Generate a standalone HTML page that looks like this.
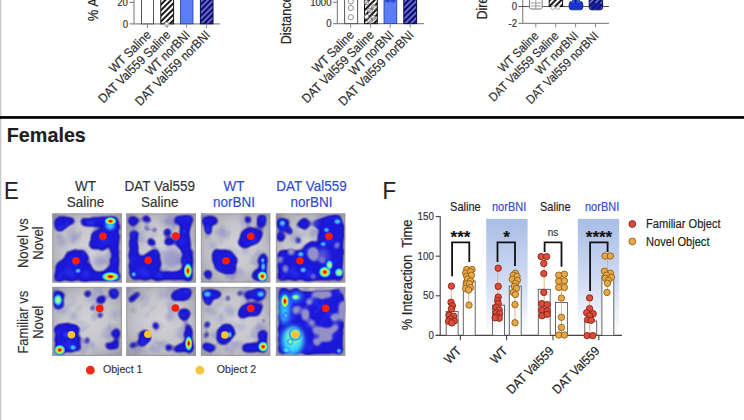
<!DOCTYPE html><html><head><meta charset="utf-8"><style>
html,body{margin:0;padding:0;background:#fff;width:744px;height:420px;overflow:hidden}
svg{display:block}
text{font-family:"Liberation Sans", sans-serif}
</style></head><body>
<svg width="744" height="420" viewBox="0 0 744 420">
<defs>
<pattern id="hatchK" patternUnits="userSpaceOnUse" width="4" height="4" patternTransform="rotate(45)">
<rect width="4" height="4" fill="#fff"/><rect width="2" height="4" fill="#1a1a1a"/></pattern>
<pattern id="hatchN" patternUnits="userSpaceOnUse" width="4" height="4" patternTransform="rotate(45)">
<rect width="4" height="4" fill="#0c0c66"/><rect x="2.3" width="1.7" height="4" fill="#7078e0"/></pattern>
<linearGradient id="bluebg" x1="0" y1="0" x2="0" y2="1">
<stop offset="0" stop-color="#a9bde6"/><stop offset="0.55" stop-color="#d2ddf3"/><stop offset="1" stop-color="#ffffff"/></linearGradient>
<radialGradient id="hmbg" cx="0.5" cy="0.5" r="0.72">
<stop offset="0" stop-color="#d2d2d6"/><stop offset="0.5" stop-color="#c4c4ca"/><stop offset="0.85" stop-color="#a6a6ae"/><stop offset="1" stop-color="#8a8a94"/></radialGradient>
<radialGradient id="hot" cx="0.5" cy="0.5" r="0.5">
<stop offset="0" stop-color="#c80000"/><stop offset="0.22" stop-color="#ff3000"/><stop offset="0.42" stop-color="#ffe000"/>
<stop offset="0.62" stop-color="#60ffa0"/><stop offset="0.8" stop-color="#20b0ff"/><stop offset="1" stop-color="#2040ff" stop-opacity="0"/></radialGradient>
<radialGradient id="warm" cx="0.5" cy="0.5" r="0.5">
<stop offset="0" stop-color="#f0ff40"/><stop offset="0.35" stop-color="#80ffa0"/>
<stop offset="0.65" stop-color="#30c0ff"/><stop offset="1" stop-color="#2040ff" stop-opacity="0"/></radialGradient>
<radialGradient id="orange" cx="0.5" cy="0.5" r="0.5">
<stop offset="0" stop-color="#f8a020"/><stop offset="0.3" stop-color="#f0d040"/><stop offset="0.55" stop-color="#70f0c0"/>
<stop offset="0.8" stop-color="#30a0ff"/><stop offset="1" stop-color="#2040ff" stop-opacity="0"/></radialGradient>
<radialGradient id="cyan2" cx="0.5" cy="0.5" r="0.5">
<stop offset="0" stop-color="#50f0ff"/><stop offset="0.55" stop-color="#30c8ff"/><stop offset="1" stop-color="#2050ff" stop-opacity="0"/></radialGradient>
<radialGradient id="cyan" cx="0.5" cy="0.5" r="0.5">
<stop offset="0" stop-color="#50e0ff"/><stop offset="0.5" stop-color="#3090ff"/><stop offset="1" stop-color="#2040ff" stop-opacity="0"/></radialGradient>
<filter id="blob" x="-20%" y="-20%" width="140%" height="140%">
<feTurbulence type="fractalNoise" baseFrequency="0.18" numOctaves="2" seed="5" result="n"/>
<feDisplacementMap in="SourceGraphic" in2="n" scale="6" xChannelSelector="R" yChannelSelector="G" result="d"/>
<feGaussianBlur in="d" stdDeviation="1.9"/>
<feComponentTransfer><feFuncA type="linear" slope="2.0" intercept="-0.4"/></feComponentTransfer>
</filter>
<filter id="blobin" x="-20%" y="-20%" width="140%" height="140%" color-interpolation-filters="sRGB">
<feTurbulence type="fractalNoise" baseFrequency="0.18" numOctaves="2" seed="5" result="n"/>
<feDisplacementMap in="SourceGraphic" in2="n" scale="6" xChannelSelector="R" yChannelSelector="G" result="d"/>
<feGaussianBlur in="d" stdDeviation="1.9"/>
<feComponentTransfer result="m"><feFuncA type="linear" slope="2.2" intercept="-0.95"/></feComponentTransfer>
<feTurbulence type="fractalNoise" baseFrequency="0.09" numOctaves="1" seed="11" result="n2"/>
<feColorMatrix in="n2" type="matrix" values="0 0 0 0 0.18  0 0 0 0 0.28  0 0 0 0 1  2.0 0 0 0 -1.05" result="c"/>
<feComposite in="c" in2="m" operator="in" result="ci"/>
<feMerge><feMergeNode in="m"/><feMergeNode in="ci"/></feMerge>
</filter>
<filter id="mottle" x="0" y="0" width="100%" height="100%" color-interpolation-filters="sRGB">
<feTurbulence type="fractalNoise" baseFrequency="0.075" numOctaves="2" seed="4"/>
<feColorMatrix type="matrix" values="0 0 0 0 0.4  0 0 0 0 0.4  0 0 0 0 0.78  2.4 0 0 0 -1.2"/>
</filter>
<filter id="core" x="-20%" y="-20%" width="140%" height="140%">
<feGaussianBlur stdDeviation="2.4"/>
<feComponentTransfer><feFuncA type="linear" slope="2.2" intercept="-1.2"/></feComponentTransfer>
</filter>
<filter id="faint" x="-30%" y="-30%" width="160%" height="160%"><feGaussianBlur stdDeviation="2.5"/></filter>
<filter id="edge" x="-10%" y="-10%" width="120%" height="120%"><feGaussianBlur stdDeviation="1.2"/></filter>
<filter id="soft"><feGaussianBlur stdDeviation="0.6"/></filter>
</defs>
<rect width="744" height="420" fill="#fff"/>

<rect x="0" y="0" width="1.3" height="420" fill="#c8c8c8"/>
<text transform="translate(97.50,21.30) rotate(-90) scale(1.0,1.12)" font-size="13" fill="#222" stroke="#222" stroke-width="0.15" text-anchor="start" >% Alternation</text>
<line x1="134" y1="-2" x2="134" y2="24" stroke="#8a8a8a" stroke-width="1.2"/>
<line x1="129.5" y1="2.4" x2="134" y2="2.4" stroke="#8a8a8a" stroke-width="1.2"/>
<line x1="129.5" y1="23.8" x2="220" y2="23.8" stroke="#8a8a8a" stroke-width="1.3"/>
<text transform="translate(127.80,6.00) scale(1.0,1.1)" font-size="9.6" fill="#333" stroke="#333" stroke-width="0.15" text-anchor="end" >20</text>
<text transform="translate(128.00,27.50) scale(1.0,1.1)" font-size="9.6" fill="#333" stroke="#333" stroke-width="0.15" text-anchor="end" >0</text>
<rect x="141.5" y="-5" width="12" height="28.8" fill="#fff" stroke="#555" stroke-width="1"/>
<rect x="160.8" y="-5" width="12.8" height="28.8" fill="url(#hatchK)" stroke="#111" stroke-width="1"/>
<rect x="180.4" y="-5" width="12.6" height="28.8" fill="#5b7ef5" stroke="#2a3a9a" stroke-width="0.8"/>
<rect x="200.4" y="-5" width="12.6" height="28.8" fill="url(#hatchN)" stroke="#080850" stroke-width="1"/>
<circle cx="166.8" cy="24.2" r="2.2" fill="#fff" stroke="#888" stroke-width="0.8"/>
<line x1="147.5" y1="23.8" x2="147.5" y2="28" stroke="#8a8a8a" stroke-width="1"/>
<line x1="167" y1="23.8" x2="167" y2="28" stroke="#8a8a8a" stroke-width="1"/>
<line x1="186.6" y1="23.8" x2="186.6" y2="28" stroke="#8a8a8a" stroke-width="1"/>
<line x1="206.6" y1="23.8" x2="206.6" y2="28" stroke="#8a8a8a" stroke-width="1"/>
<text transform="translate(151.80,35.80) rotate(-45) scale(1.0,1.1)" font-size="11.6" fill="#2e2e2e" stroke="#2e2e2e" stroke-width="0.15" text-anchor="end" >WT Saline</text>
<text transform="translate(171.30,35.80) rotate(-45) scale(1.0,1.1)" font-size="11.6" fill="#2e2e2e" stroke="#2e2e2e" stroke-width="0.15" text-anchor="end" >DAT Val559 Saline</text>
<text transform="translate(190.90,35.80) rotate(-45) scale(1.0,1.1)" font-size="11.6" fill="#2e2e2e" stroke="#2e2e2e" stroke-width="0.15" text-anchor="end" >WT norBNI</text>
<text transform="translate(210.90,35.80) rotate(-45) scale(1.0,1.1)" font-size="11.6" fill="#2e2e2e" stroke="#2e2e2e" stroke-width="0.15" text-anchor="end" >DAT Val559 norBNI</text>
<text transform="translate(291.20,44.30) rotate(-90) scale(1.0,1.15)" font-size="12.5" fill="#222" stroke="#222" stroke-width="0.15" text-anchor="start" >Distance Traveled</text>
<line x1="337.4" y1="-2" x2="337.4" y2="24" stroke="#8a8a8a" stroke-width="1.2"/>
<line x1="333" y1="2.3" x2="337.4" y2="2.3" stroke="#8a8a8a" stroke-width="1.2"/>
<line x1="333" y1="23.6" x2="424" y2="23.6" stroke="#8a8a8a" stroke-width="1.3"/>
<text transform="translate(331.50,6.00) scale(1.0,1.1)" font-size="9.6" fill="#333" stroke="#333" stroke-width="0.15" text-anchor="end" >1000</text>
<text transform="translate(331.50,27.30) scale(1.0,1.1)" font-size="9.6" fill="#333" stroke="#333" stroke-width="0.15" text-anchor="end" >0</text>
<rect x="344.6" y="-5" width="13" height="28.6" fill="#fff" stroke="#555" stroke-width="1"/>
<line x1="350.6" y1="-2" x2="350.6" y2="4" stroke="#666" stroke-width="0.8"/>
<circle cx="350.8" cy="1.5" r="2.6" fill="#fff" stroke="#777" stroke-width="0.8"/>
<circle cx="350.8" cy="8" r="2.6" fill="#fff" stroke="#777" stroke-width="0.8"/>
<circle cx="350.8" cy="17.3" r="2.6" fill="#fff" stroke="#777" stroke-width="0.8"/>
<rect x="364.5" y="-5" width="12.8" height="28.6" fill="url(#hatchK)" stroke="#111" stroke-width="1"/>
<circle cx="366.5" cy="2.5" r="2.4" fill="#fff" fill-opacity="0.6" stroke="#666" stroke-width="0.7"/>
<circle cx="374" cy="7" r="2.4" fill="#fff" fill-opacity="0.6" stroke="#666" stroke-width="0.7"/>
<circle cx="370" cy="10.5" r="2.4" fill="#fff" fill-opacity="0.6" stroke="#666" stroke-width="0.7"/>
<circle cx="366.5" cy="16.5" r="2.4" fill="#fff" fill-opacity="0.6" stroke="#666" stroke-width="0.7"/>
<circle cx="373.5" cy="17.5" r="2.4" fill="#fff" fill-opacity="0.6" stroke="#666" stroke-width="0.7"/>
<circle cx="370" cy="21" r="2.4" fill="#fff" fill-opacity="0.6" stroke="#666" stroke-width="0.7"/>
<rect x="384" y="-5" width="12.8" height="28.6" fill="#5b7ef5" stroke="#2a3a9a" stroke-width="0.8"/>
<circle cx="387.5" cy="0" r="2.6" fill="#2a48d0"/><circle cx="393" cy="0" r="2.6" fill="#2a48d0"/>
<rect x="403.8" y="-5" width="12.8" height="28.6" fill="url(#hatchN)" stroke="#080850" stroke-width="1"/>
<line x1="350.6" y1="23.6" x2="350.6" y2="27.6" stroke="#8a8a8a" stroke-width="1"/>
<line x1="370.6" y1="23.6" x2="370.6" y2="27.6" stroke="#8a8a8a" stroke-width="1"/>
<line x1="390.2" y1="23.6" x2="390.2" y2="27.6" stroke="#8a8a8a" stroke-width="1"/>
<line x1="410.2" y1="23.6" x2="410.2" y2="27.6" stroke="#8a8a8a" stroke-width="1"/>
<text transform="translate(354.90,35.80) rotate(-45) scale(1.0,1.1)" font-size="11.6" fill="#2e2e2e" stroke="#2e2e2e" stroke-width="0.15" text-anchor="end" >WT Saline</text>
<text transform="translate(374.90,35.80) rotate(-45) scale(1.0,1.1)" font-size="11.6" fill="#2e2e2e" stroke="#2e2e2e" stroke-width="0.15" text-anchor="end" >DAT Val559 Saline</text>
<text transform="translate(394.50,35.80) rotate(-45) scale(1.0,1.1)" font-size="11.6" fill="#2e2e2e" stroke="#2e2e2e" stroke-width="0.15" text-anchor="end" >WT norBNI</text>
<text transform="translate(414.50,35.80) rotate(-45) scale(1.0,1.1)" font-size="11.6" fill="#2e2e2e" stroke="#2e2e2e" stroke-width="0.15" text-anchor="end" >DAT Val559 norBNI</text>
<text transform="translate(487.40,19.60) rotate(-90) scale(1.0,1.15)" font-size="12.5" fill="#222" stroke="#222" stroke-width="0.15" text-anchor="start" >Direction Index</text>
<line x1="522.7" y1="-2" x2="522.7" y2="23.6" stroke="#8a8a8a" stroke-width="1.2"/>
<line x1="518.5" y1="6.5" x2="609" y2="6.5" stroke="#555" stroke-width="1.1"/>
<line x1="518.5" y1="23.4" x2="609" y2="23.4" stroke="#8a8a8a" stroke-width="1.3"/>
<text transform="translate(517.00,10.00) scale(1.0,1.1)" font-size="9.6" fill="#333" stroke="#333" stroke-width="0.15" text-anchor="end" >0</text>
<text transform="translate(517.00,27.00) scale(1.0,1.1)" font-size="9.6" fill="#333" stroke="#333" stroke-width="0.15" text-anchor="end" >-2</text>
<rect x="529.6" y="-3" width="12.6" height="12" rx="2" fill="#fff" stroke="#777" stroke-width="1"/>
<line x1="531" y1="3" x2="541" y2="3" stroke="#888" stroke-width="0.8"/><line x1="531" y1="6" x2="541" y2="6" stroke="#888" stroke-width="0.8"/><line x1="535.8" y1="-2" x2="535.8" y2="9" stroke="#888" stroke-width="0.8"/>
<rect x="549.2" y="-3" width="13.4" height="9.5" fill="url(#hatchK)" stroke="#111" stroke-width="1"/>
<circle cx="553" cy="7.5" r="2" fill="#fff" stroke="#888" stroke-width="0.7"/><circle cx="558" cy="7.5" r="2" fill="#fff" stroke="#888" stroke-width="0.7"/>
<rect x="569.2" y="1.5" width="13.6" height="8.3" rx="2.5" fill="#1a36c8" stroke="#0a1a90" stroke-width="0.8"/>
<rect x="572" y="-2" width="8" height="5" fill="#3050d8"/><line x1="575.6" y1="-2" x2="575.6" y2="3" stroke="#101870" stroke-width="1.5"/>
<rect x="589.2" y="-2" width="13.4" height="11.8" rx="2.5" fill="url(#hatchN)" stroke="#0a0a60" stroke-width="1"/>
<rect x="590.5" y="3" width="11" height="6" rx="2" fill="#0c1690" fill-opacity="0.8"/>
<line x1="535.8" y1="23.4" x2="535.8" y2="27.4" stroke="#8a8a8a" stroke-width="1"/>
<line x1="555.7" y1="23.4" x2="555.7" y2="27.4" stroke="#8a8a8a" stroke-width="1"/>
<line x1="575.6" y1="23.4" x2="575.6" y2="27.4" stroke="#8a8a8a" stroke-width="1"/>
<line x1="595.5" y1="23.4" x2="595.5" y2="27.4" stroke="#8a8a8a" stroke-width="1"/>
<text transform="translate(539.40,36.60) rotate(-45) scale(1.0,1.1)" font-size="11.2" fill="#2e2e2e" stroke="#2e2e2e" stroke-width="0.15" text-anchor="end" >WT Saline</text>
<text transform="translate(559.30,36.60) rotate(-45) scale(1.0,1.1)" font-size="11.2" fill="#2e2e2e" stroke="#2e2e2e" stroke-width="0.15" text-anchor="end" >DAT Val559 Saline</text>
<text transform="translate(579.20,36.60) rotate(-45) scale(1.0,1.1)" font-size="11.2" fill="#2e2e2e" stroke="#2e2e2e" stroke-width="0.15" text-anchor="end" >WT norBNI</text>
<text transform="translate(599.10,36.60) rotate(-45) scale(1.0,1.1)" font-size="11.2" fill="#2e2e2e" stroke="#2e2e2e" stroke-width="0.15" text-anchor="end" >DAT Val559 norBNI</text>
<rect x="0" y="116.1" width="744" height="2.7" fill="#000"/>
<text transform="translate(6.80,141.50) scale(1.04,1.1)" font-size="19" fill="#1e1e1e" stroke="#1e1e1e" stroke-width="0.15" text-anchor="start" font-weight="bold" >Females</text>
<text transform="translate(4.00,199.20) scale(1.0,1.1)" font-size="22" fill="#222" stroke="#222" stroke-width="0.15" text-anchor="start" >E</text>
<text transform="translate(85.60,190.50) scale(1.0,1.1)" font-size="13.5" fill="#333" stroke="#333" stroke-width="0.15" text-anchor="middle" >WT</text>
<text transform="translate(85.60,206.60) scale(1.0,1.1)" font-size="13.5" fill="#333" stroke="#333" stroke-width="0.15" text-anchor="middle" >Saline</text>
<text transform="translate(159.80,190.50) scale(1.0,1.1)" font-size="13.5" fill="#333" stroke="#333" stroke-width="0.15" text-anchor="middle" >DAT Val559</text>
<text transform="translate(159.80,206.60) scale(1.0,1.1)" font-size="13.5" fill="#333" stroke="#333" stroke-width="0.15" text-anchor="middle" >Saline</text>
<text transform="translate(233.90,190.50) scale(1.0,1.1)" font-size="13.5" fill="#3049d0" stroke="#3049d0" stroke-width="0.15" text-anchor="middle" >WT</text>
<text transform="translate(233.90,206.60) scale(1.0,1.1)" font-size="13.5" fill="#3049d0" stroke="#3049d0" stroke-width="0.15" text-anchor="middle" >norBNI</text>
<text transform="translate(311.60,190.50) scale(1.0,1.1)" font-size="13.5" fill="#3049d0" stroke="#3049d0" stroke-width="0.15" text-anchor="middle" >DAT Val559</text>
<text transform="translate(311.60,206.60) scale(1.0,1.1)" font-size="13.5" fill="#3049d0" stroke="#3049d0" stroke-width="0.15" text-anchor="middle" >norBNI</text>
<text transform="translate(27.80,243.10) rotate(-90) scale(1.0,1.15)" font-size="13" fill="#333" stroke="#333" stroke-width="0.15" text-anchor="middle" >Novel vs</text>
<text transform="translate(42.80,243.10) rotate(-90) scale(1.0,1.15)" font-size="13" fill="#333" stroke="#333" stroke-width="0.15" text-anchor="middle" >Novel</text>
<text transform="translate(27.80,322.20) rotate(-90) scale(1.0,1.15)" font-size="13" fill="#333" stroke="#333" stroke-width="0.15" text-anchor="middle" >Familiar vs</text>
<text transform="translate(42.80,322.20) rotate(-90) scale(1.0,1.15)" font-size="13" fill="#333" stroke="#333" stroke-width="0.15" text-anchor="middle" >Novel</text>
<clipPath id="clip00"><rect x="0" y="0" width="69.8" height="69.4"/></clipPath>
<g transform="translate(52.2,213.3)" clip-path="url(#clip00)">
<rect x="0" y="0" width="69.8" height="69.4" fill="url(#hmbg)"/>
<rect x="0" y="0" width="69.8" height="69.4" fill="#fff" filter="url(#mottle)" opacity="0.45"/>
<g filter="url(#faint)" opacity="0.35">
<circle cx="10.0" cy="29.0" r="4.0" fill="#5050c0"/>
<circle cx="22.0" cy="24.0" r="5.0" fill="#5050c0"/>
<circle cx="47.0" cy="48.0" r="5.0" fill="#5050c0"/>
</g>
<g filter="url(#blob)">
<ellipse cx="10.0" cy="10.0" rx="8.0" ry="7.0" fill="#1410a6"/>
<circle cx="17.0" cy="8.0" r="4.5" fill="#1410a6"/>
<circle cx="7.0" cy="14.0" r="4.5" fill="#1410a6"/>
<line x1="33.0" y1="9.0" x2="62.0" y2="8.0" stroke="#1410a6" stroke-width="8.5" stroke-linecap="round"/>
<circle cx="47.0" cy="25.0" r="8.5" fill="#1410a6"/>
<circle cx="53.0" cy="21.0" r="7.0" fill="#1410a6"/>
<circle cx="56.0" cy="28.0" r="5.0" fill="#1410a6"/>
<circle cx="58.0" cy="15.0" r="5.0" fill="#1410a6"/>
<circle cx="41.0" cy="33.0" r="4.2" fill="#1410a6"/>
<circle cx="51.0" cy="34.0" r="3.8" fill="#1410a6"/>
<line x1="62.5" y1="10.0" x2="62.5" y2="62.0" stroke="#1410a6" stroke-width="8" stroke-linecap="round"/>
<circle cx="22.0" cy="46.0" r="10.0" fill="#1410a6"/>
<circle cx="30.0" cy="43.0" r="6.0" fill="#1410a6"/>
<ellipse cx="12.0" cy="56.0" rx="9.0" ry="9.0" fill="#1410a6"/>
<line x1="8.0" y1="58.0" x2="8.0" y2="64.0" stroke="#1410a6" stroke-width="9" stroke-linecap="round"/>
<line x1="8.0" y1="62.0" x2="38.0" y2="62.0" stroke="#1410a6" stroke-width="11" stroke-linecap="round"/>
<circle cx="30.0" cy="56.0" r="6.0" fill="#1410a6"/>
<circle cx="36.0" cy="54.0" r="4.0" fill="#1410a6"/>
<line x1="38.0" y1="63.0" x2="64.0" y2="63.0" stroke="#1410a6" stroke-width="9" stroke-linecap="round"/>
<circle cx="58.0" cy="56.0" r="4.0" fill="#1410a6"/>
</g>
<g filter="url(#blobin)">
<ellipse cx="10.0" cy="10.0" rx="8.0" ry="7.0" fill="#1c18da"/>
<circle cx="17.0" cy="8.0" r="4.5" fill="#1c18da"/>
<circle cx="7.0" cy="14.0" r="4.5" fill="#1c18da"/>
<line x1="33.0" y1="9.0" x2="62.0" y2="8.0" stroke="#1c18da" stroke-width="8.5" stroke-linecap="round"/>
<circle cx="47.0" cy="25.0" r="8.5" fill="#1c18da"/>
<circle cx="53.0" cy="21.0" r="7.0" fill="#1c18da"/>
<circle cx="56.0" cy="28.0" r="5.0" fill="#1c18da"/>
<circle cx="58.0" cy="15.0" r="5.0" fill="#1c18da"/>
<circle cx="41.0" cy="33.0" r="4.2" fill="#1c18da"/>
<circle cx="51.0" cy="34.0" r="3.8" fill="#1c18da"/>
<line x1="62.5" y1="10.0" x2="62.5" y2="62.0" stroke="#1c18da" stroke-width="8" stroke-linecap="round"/>
<circle cx="22.0" cy="46.0" r="10.0" fill="#1c18da"/>
<circle cx="30.0" cy="43.0" r="6.0" fill="#1c18da"/>
<ellipse cx="12.0" cy="56.0" rx="9.0" ry="9.0" fill="#1c18da"/>
<line x1="8.0" y1="58.0" x2="8.0" y2="64.0" stroke="#1c18da" stroke-width="9" stroke-linecap="round"/>
<line x1="8.0" y1="62.0" x2="38.0" y2="62.0" stroke="#1c18da" stroke-width="11" stroke-linecap="round"/>
<circle cx="30.0" cy="56.0" r="6.0" fill="#1c18da"/>
<circle cx="36.0" cy="54.0" r="4.0" fill="#1c18da"/>
<line x1="38.0" y1="63.0" x2="64.0" y2="63.0" stroke="#1c18da" stroke-width="9" stroke-linecap="round"/>
<circle cx="58.0" cy="56.0" r="4.0" fill="#1c18da"/>
</g>
<g filter="url(#core)" opacity="0.8">
<circle cx="23.0" cy="50.0" r="5.0" fill="#3050ff"/>
<circle cx="50.0" cy="25.0" r="5.0" fill="#3050ff"/>
<line x1="62.0" y1="14.0" x2="62.0" y2="50.0" stroke="#3050ff" stroke-width="4" stroke-linecap="round"/>
</g>
<ellipse cx="58" cy="12" rx="7" ry="7" fill="url(#cyan)"/>
<ellipse cx="58.3" cy="63.3" rx="9.5" ry="5" fill="url(#hot)"/>
<ellipse cx="58.3" cy="7.9" rx="6.5" ry="4.5" fill="url(#hot)"/>
<ellipse cx="25.8" cy="57.5" rx="3.5" ry="3" fill="url(#cyan)"/>
<circle cx="50.8" cy="23" r="3.8" fill="#ff1a00" filter="url(#soft)"/>
<circle cx="23.75" cy="47.5" r="3.8" fill="#ff1a00" filter="url(#soft)"/>
<rect x="0.6" y="0.6" width="68.6" height="68.2" fill="none" stroke="#9a9aa2" stroke-width="1.1"/>
</g>
<clipPath id="clip01"><rect x="0" y="0" width="69.8" height="69.4"/></clipPath>
<g transform="translate(126.2,213.3)" clip-path="url(#clip01)">
<rect x="0" y="0" width="69.8" height="69.4" fill="url(#hmbg)"/>
<rect x="0" y="0" width="69.8" height="69.4" fill="#fff" filter="url(#mottle)" opacity="0.45"/>
<g filter="url(#faint)" opacity="0.35">
<line x1="38.0" y1="8.0" x2="52.0" y2="10.0" stroke="#5050c0" stroke-width="6" stroke-linecap="round"/>
<line x1="7.0" y1="12.0" x2="7.0" y2="22.0" stroke="#5050c0" stroke-width="7" stroke-linecap="round"/>
<circle cx="45.0" cy="45.0" r="10.0" fill="#5050c0"/>
<circle cx="14.0" cy="25.0" r="4.0" fill="#5050c0"/>
</g>
<g filter="url(#blob)">
<circle cx="6.7" cy="7.5" r="5.0" fill="#1410a6"/>
<ellipse cx="20.0" cy="5.8" rx="4.5" ry="3.8" fill="#1410a6"/>
<circle cx="20.8" cy="15.0" r="2.4" fill="#1410a6"/>
<circle cx="28.8" cy="16.3" r="2.4" fill="#1410a6"/>
<circle cx="25.0" cy="29.0" r="4.0" fill="#1410a6"/>
<line x1="7.5" y1="22.0" x2="7.5" y2="60.0" stroke="#1410a6" stroke-width="8.5" stroke-linecap="round"/>
<circle cx="10.0" cy="45.0" r="5.5" fill="#1410a6"/>
<circle cx="14.0" cy="58.0" r="6.5" fill="#1410a6"/>
<circle cx="22.0" cy="47.0" r="7.5" fill="#1410a6"/>
<circle cx="28.0" cy="42.0" r="6.0" fill="#1410a6"/>
<circle cx="30.0" cy="52.0" r="5.0" fill="#1410a6"/>
<circle cx="24.0" cy="58.0" r="6.0" fill="#1410a6"/>
<line x1="8.0" y1="62.5" x2="56.0" y2="62.5" stroke="#1410a6" stroke-width="8" stroke-linecap="round"/>
<circle cx="40.4" cy="19.6" r="3.5" fill="#1410a6"/>
<ellipse cx="43.3" cy="28.3" rx="5.0" ry="3.5" fill="#1410a6"/>
<line x1="52.0" y1="7.0" x2="63.0" y2="7.0" stroke="#1410a6" stroke-width="8" stroke-linecap="round"/>
<line x1="59.0" y1="8.0" x2="59.0" y2="34.0" stroke="#1410a6" stroke-width="10" stroke-linecap="round"/>
<circle cx="53.0" cy="30.0" r="4.0" fill="#1410a6"/>
<line x1="61.0" y1="38.0" x2="61.0" y2="63.0" stroke="#1410a6" stroke-width="11" stroke-linecap="round"/>
</g>
<g filter="url(#blobin)">
<circle cx="6.7" cy="7.5" r="5.0" fill="#1c18da"/>
<ellipse cx="20.0" cy="5.8" rx="4.5" ry="3.8" fill="#1c18da"/>
<circle cx="20.8" cy="15.0" r="2.4" fill="#1c18da"/>
<circle cx="28.8" cy="16.3" r="2.4" fill="#1c18da"/>
<circle cx="25.0" cy="29.0" r="4.0" fill="#1c18da"/>
<line x1="7.5" y1="22.0" x2="7.5" y2="60.0" stroke="#1c18da" stroke-width="8.5" stroke-linecap="round"/>
<circle cx="10.0" cy="45.0" r="5.5" fill="#1c18da"/>
<circle cx="14.0" cy="58.0" r="6.5" fill="#1c18da"/>
<circle cx="22.0" cy="47.0" r="7.5" fill="#1c18da"/>
<circle cx="28.0" cy="42.0" r="6.0" fill="#1c18da"/>
<circle cx="30.0" cy="52.0" r="5.0" fill="#1c18da"/>
<circle cx="24.0" cy="58.0" r="6.0" fill="#1c18da"/>
<line x1="8.0" y1="62.5" x2="56.0" y2="62.5" stroke="#1c18da" stroke-width="8" stroke-linecap="round"/>
<circle cx="40.4" cy="19.6" r="3.5" fill="#1c18da"/>
<ellipse cx="43.3" cy="28.3" rx="5.0" ry="3.5" fill="#1c18da"/>
<line x1="52.0" y1="7.0" x2="63.0" y2="7.0" stroke="#1c18da" stroke-width="8" stroke-linecap="round"/>
<line x1="59.0" y1="8.0" x2="59.0" y2="34.0" stroke="#1c18da" stroke-width="10" stroke-linecap="round"/>
<circle cx="53.0" cy="30.0" r="4.0" fill="#1c18da"/>
<line x1="61.0" y1="38.0" x2="61.0" y2="63.0" stroke="#1c18da" stroke-width="11" stroke-linecap="round"/>
</g>
<g filter="url(#core)" opacity="0.8">
<circle cx="22.0" cy="50.0" r="4.0" fill="#3050ff"/>
<circle cx="58.0" cy="18.0" r="4.0" fill="#3050ff"/>
</g>
<ellipse cx="61.7" cy="57.5" rx="4.5" ry="8" fill="url(#hot)"/>
<ellipse cx="7.5" cy="61" rx="3" ry="3" fill="url(#cyan)"/>
<circle cx="49.6" cy="22.8" r="3.8" fill="#ff1a00" filter="url(#soft)"/>
<circle cx="22" cy="47" r="3.8" fill="#ff1a00" filter="url(#soft)"/>
<rect x="0.6" y="0.6" width="68.6" height="68.2" fill="none" stroke="#9a9aa2" stroke-width="1.1"/>
</g>
<clipPath id="clip02"><rect x="0" y="0" width="69.8" height="69.4"/></clipPath>
<g transform="translate(200.7,213.3)" clip-path="url(#clip02)">
<rect x="0" y="0" width="69.8" height="69.4" fill="url(#hmbg)"/>
<rect x="0" y="0" width="69.8" height="69.4" fill="#fff" filter="url(#mottle)" opacity="0.45"/>
<g filter="url(#faint)" opacity="0.35">
<circle cx="22.0" cy="20.0" r="5.0" fill="#5050c0"/>
<circle cx="44.0" cy="37.5" r="3.0" fill="#5050c0"/>
<circle cx="32.0" cy="62.0" r="4.0" fill="#5050c0"/>
<circle cx="12.0" cy="32.0" r="3.0" fill="#5050c0"/>
</g>
<g filter="url(#blob)">
<line x1="6.0" y1="8.0" x2="12.0" y2="8.0" stroke="#1410a6" stroke-width="10" stroke-linecap="round"/>
<line x1="8.0" y1="10.0" x2="7.0" y2="18.0" stroke="#1410a6" stroke-width="7" stroke-linecap="round"/>
<circle cx="47.0" cy="6.0" r="3.4" fill="#1410a6"/>
<line x1="61.0" y1="6.0" x2="61.0" y2="11.0" stroke="#1410a6" stroke-width="8" stroke-linecap="round"/>
<circle cx="50.0" cy="23.0" r="9.5" fill="#1410a6"/>
<circle cx="44.0" cy="29.0" r="6.0" fill="#1410a6"/>
<circle cx="57.0" cy="21.0" r="5.0" fill="#1410a6"/>
<circle cx="24.0" cy="48.0" r="11.5" fill="#1410a6"/>
<circle cx="17.0" cy="42.0" r="6.0" fill="#1410a6"/>
<circle cx="30.0" cy="56.0" r="5.0" fill="#1410a6"/>
<circle cx="7.5" cy="61.0" r="4.5" fill="#1410a6"/>
<line x1="62.0" y1="44.0" x2="62.0" y2="62.0" stroke="#1410a6" stroke-width="8" stroke-linecap="round"/>
<circle cx="59.0" cy="62.0" r="7.0" fill="#1410a6"/>
</g>
<g filter="url(#blobin)">
<line x1="6.0" y1="8.0" x2="12.0" y2="8.0" stroke="#1c18da" stroke-width="10" stroke-linecap="round"/>
<line x1="8.0" y1="10.0" x2="7.0" y2="18.0" stroke="#1c18da" stroke-width="7" stroke-linecap="round"/>
<circle cx="47.0" cy="6.0" r="3.4" fill="#1c18da"/>
<line x1="61.0" y1="6.0" x2="61.0" y2="11.0" stroke="#1c18da" stroke-width="8" stroke-linecap="round"/>
<circle cx="50.0" cy="23.0" r="9.5" fill="#1c18da"/>
<circle cx="44.0" cy="29.0" r="6.0" fill="#1c18da"/>
<circle cx="57.0" cy="21.0" r="5.0" fill="#1c18da"/>
<circle cx="24.0" cy="48.0" r="11.5" fill="#1c18da"/>
<circle cx="17.0" cy="42.0" r="6.0" fill="#1c18da"/>
<circle cx="30.0" cy="56.0" r="5.0" fill="#1c18da"/>
<circle cx="7.5" cy="61.0" r="4.5" fill="#1c18da"/>
<line x1="62.0" y1="44.0" x2="62.0" y2="62.0" stroke="#1c18da" stroke-width="8" stroke-linecap="round"/>
<circle cx="59.0" cy="62.0" r="7.0" fill="#1c18da"/>
</g>
<g filter="url(#core)" opacity="0.8">
<circle cx="50.0" cy="22.0" r="5.0" fill="#3050ff"/>
<circle cx="24.0" cy="48.0" r="5.0" fill="#3050ff"/>
</g>
<ellipse cx="61.7" cy="63" rx="5.5" ry="5.5" fill="url(#hot)"/>
<ellipse cx="62.5" cy="53.3" rx="3" ry="5" fill="url(#cyan)"/>
<ellipse cx="62" cy="47" rx="2.5" ry="3" fill="url(#cyan)"/>
<circle cx="50" cy="23" r="3.8" fill="#ff1a00" filter="url(#soft)"/>
<circle cx="25.3" cy="47.5" r="3.8" fill="#ff1a00" filter="url(#soft)"/>
<rect x="0.6" y="0.6" width="68.6" height="68.2" fill="none" stroke="#9a9aa2" stroke-width="1.1"/>
</g>
<clipPath id="clip03"><rect x="0" y="0" width="69.8" height="69.4"/></clipPath>
<g transform="translate(275.7,213.3)" clip-path="url(#clip03)">
<rect x="0" y="0" width="69.8" height="69.4" fill="url(#hmbg)"/>
<rect x="0" y="0" width="69.8" height="69.4" fill="#fff" filter="url(#mottle)" opacity="0.45"/>
<g filter="url(#faint)" opacity="0.35">
<circle cx="20.0" cy="25.0" r="5.0" fill="#5050c0"/>
<circle cx="38.0" cy="20.0" r="5.0" fill="#5050c0"/>
</g>
<g filter="url(#blob)">
<circle cx="7.0" cy="11.0" r="6.5" fill="#1410a6"/>
<circle cx="13.3" cy="18.3" r="3.5" fill="#1410a6"/>
<circle cx="5.0" cy="24.0" r="4.5" fill="#1410a6"/>
<ellipse cx="28.3" cy="10.4" rx="7.0" ry="5.5" fill="#1410a6"/>
<rect x="2.5" y="37.0" width="65.0" height="30.0" rx="4" fill="#1410a6"/>
<rect x="43.0" y="6.0" width="24.5" height="34.0" rx="4" fill="#1410a6"/>
<line x1="42.0" y1="11.0" x2="60.0" y2="6.0" stroke="#1410a6" stroke-width="9" stroke-linecap="round"/>
<circle cx="32.0" cy="35.0" r="5.0" fill="#1410a6"/>
<circle cx="40.0" cy="34.0" r="6.0" fill="#1410a6"/>
<circle cx="22.7" cy="27.0" r="3.0" fill="#1410a6"/>
</g>
<g filter="url(#blobin)">
<circle cx="7.0" cy="11.0" r="6.5" fill="#1c18da"/>
<circle cx="13.3" cy="18.3" r="3.5" fill="#1c18da"/>
<circle cx="5.0" cy="24.0" r="4.5" fill="#1c18da"/>
<ellipse cx="28.3" cy="10.4" rx="7.0" ry="5.5" fill="#1c18da"/>
<rect x="2.5" y="37.0" width="65.0" height="30.0" rx="4" fill="#1c18da"/>
<rect x="43.0" y="6.0" width="24.5" height="34.0" rx="4" fill="#1c18da"/>
<line x1="42.0" y1="11.0" x2="60.0" y2="6.0" stroke="#1c18da" stroke-width="9" stroke-linecap="round"/>
<circle cx="32.0" cy="35.0" r="5.0" fill="#1c18da"/>
<circle cx="40.0" cy="34.0" r="6.0" fill="#1c18da"/>
<circle cx="22.7" cy="27.0" r="3.0" fill="#1c18da"/>
</g>
<g filter="url(#faint)" opacity="0.45">
<circle cx="47.0" cy="42.0" r="6.0" fill="#9a9ad0"/>
<circle cx="38.0" cy="8.0" r="4.0" fill="#9a9ad0"/>
</g>
<g filter="url(#blob)">
<circle cx="4.0" cy="46.0" r="3.0" fill="#9290c6"/>
<ellipse cx="37.0" cy="41.0" rx="5.0" ry="7.0" fill="#9290c6"/>
<circle cx="37.0" cy="63.0" r="2.8" fill="#9290c6"/>
<circle cx="61.0" cy="32.0" r="2.5" fill="#9290c6"/>
<circle cx="10.0" cy="56.0" r="3.0" fill="#9290c6"/>
<circle cx="15.0" cy="38.0" r="3.0" fill="#9290c6"/>
<circle cx="47.0" cy="47.0" r="3.0" fill="#9290c6"/>
</g>
<ellipse cx="6.7" cy="10" rx="4" ry="4" fill="url(#cyan)"/>
<ellipse cx="61.7" cy="8.3" rx="4.5" ry="3.5" fill="url(#cyan)"/>
<ellipse cx="50.8" cy="16.7" rx="3.5" ry="3" fill="url(#cyan)"/>
<ellipse cx="47.5" cy="30.8" rx="3.5" ry="3" fill="url(#cyan)"/>
<ellipse cx="25" cy="41" rx="4" ry="3.5" fill="url(#cyan)"/>
<ellipse cx="27.5" cy="56.7" rx="4" ry="3.5" fill="url(#cyan)"/>
<ellipse cx="49.2" cy="58.75" rx="6.5" ry="6" fill="url(#hot)"/>
<ellipse cx="53.75" cy="51.7" rx="4" ry="5.5" fill="url(#warm)"/>
<ellipse cx="63.3" cy="59.2" rx="5" ry="5" fill="url(#warm)"/>
<circle cx="53.3" cy="23" r="3.8" fill="#ff1a00" filter="url(#soft)"/>
<circle cx="24.2" cy="47.5" r="3.8" fill="#ff1a00" filter="url(#soft)"/>
<rect x="0.6" y="0.6" width="68.6" height="68.2" fill="none" stroke="#9a9aa2" stroke-width="1.1"/>
</g>
<clipPath id="clip10"><rect x="0" y="0" width="69.8" height="69.4"/></clipPath>
<g transform="translate(52.2,286.7)" clip-path="url(#clip10)">
<rect x="0" y="0" width="69.8" height="69.4" fill="url(#hmbg)"/>
<rect x="0" y="0" width="69.8" height="69.4" fill="#fff" filter="url(#mottle)" opacity="0.45"/>
<g filter="url(#faint)" opacity="0.35">
<circle cx="12.0" cy="24.0" r="3.0" fill="#5050c0"/>
<circle cx="38.0" cy="12.0" r="3.0" fill="#5050c0"/>
<circle cx="62.0" cy="28.0" r="3.0" fill="#5050c0"/>
<circle cx="22.0" cy="30.0" r="3.0" fill="#5050c0"/>
</g>
<g filter="url(#blob)">
<line x1="6.0" y1="9.0" x2="6.0" y2="17.0" stroke="#1410a6" stroke-width="11" stroke-linecap="round"/>
<circle cx="35.8" cy="6.7" r="3.7" fill="#1410a6"/>
<circle cx="61.7" cy="7.5" r="5.0" fill="#1410a6"/>
<circle cx="48.3" cy="13.3" r="4.5" fill="#1410a6"/>
<circle cx="40.0" cy="21.7" r="3.2" fill="#1410a6"/>
<circle cx="48.3" cy="28.3" r="3.2" fill="#1410a6"/>
<line x1="9.0" y1="44.0" x2="20.0" y2="44.0" stroke="#1410a6" stroke-width="14" stroke-linecap="round"/>
<line x1="9.0" y1="50.0" x2="9.0" y2="62.0" stroke="#1410a6" stroke-width="12" stroke-linecap="round"/>
<line x1="14.0" y1="60.0" x2="24.0" y2="60.0" stroke="#1410a6" stroke-width="10" stroke-linecap="round"/>
<circle cx="22.0" cy="52.0" r="6.0" fill="#1410a6"/>
<circle cx="64.2" cy="46.7" r="4.6" fill="#1410a6"/>
<line x1="56.0" y1="59.0" x2="64.0" y2="59.0" stroke="#1410a6" stroke-width="7" stroke-linecap="round"/>
<circle cx="64.0" cy="55.0" r="3.0" fill="#1410a6"/>
<circle cx="35.0" cy="54.0" r="2.8" fill="#1410a6"/>
</g>
<g filter="url(#blobin)">
<line x1="6.0" y1="9.0" x2="6.0" y2="17.0" stroke="#1c18da" stroke-width="11" stroke-linecap="round"/>
<circle cx="35.8" cy="6.7" r="3.7" fill="#1c18da"/>
<circle cx="61.7" cy="7.5" r="5.0" fill="#1c18da"/>
<circle cx="48.3" cy="13.3" r="4.5" fill="#1c18da"/>
<circle cx="40.0" cy="21.7" r="3.2" fill="#1c18da"/>
<circle cx="48.3" cy="28.3" r="3.2" fill="#1c18da"/>
<line x1="9.0" y1="44.0" x2="20.0" y2="44.0" stroke="#1c18da" stroke-width="14" stroke-linecap="round"/>
<line x1="9.0" y1="50.0" x2="9.0" y2="62.0" stroke="#1c18da" stroke-width="12" stroke-linecap="round"/>
<line x1="14.0" y1="60.0" x2="24.0" y2="60.0" stroke="#1c18da" stroke-width="10" stroke-linecap="round"/>
<circle cx="22.0" cy="52.0" r="6.0" fill="#1c18da"/>
<circle cx="64.2" cy="46.7" r="4.6" fill="#1c18da"/>
<line x1="56.0" y1="59.0" x2="64.0" y2="59.0" stroke="#1c18da" stroke-width="7" stroke-linecap="round"/>
<circle cx="64.0" cy="55.0" r="3.0" fill="#1c18da"/>
<circle cx="35.0" cy="54.0" r="2.8" fill="#1c18da"/>
</g>
<g filter="url(#core)" opacity="0.8">
<circle cx="14.0" cy="48.0" r="5.0" fill="#3050ff"/>
</g>
<ellipse cx="5.8" cy="13.3" rx="5" ry="6.5" fill="url(#warm)"/>
<ellipse cx="7.5" cy="63.3" rx="6" ry="5.5" fill="url(#hot)"/>
<ellipse cx="20.8" cy="60.8" rx="4" ry="3.5" fill="url(#cyan)"/>
<circle cx="47.5" cy="21.7" r="3.8" fill="#ff1a00" filter="url(#soft)"/>
<circle cx="19.2" cy="48" r="3.8" fill="#ffc42a" filter="url(#soft)"/>
<rect x="0.6" y="0.6" width="68.6" height="68.2" fill="none" stroke="#9a9aa2" stroke-width="1.1"/>
</g>
<clipPath id="clip11"><rect x="0" y="0" width="69.8" height="69.4"/></clipPath>
<g transform="translate(126.2,286.7)" clip-path="url(#clip11)">
<rect x="0" y="0" width="69.8" height="69.4" fill="url(#hmbg)"/>
<rect x="0" y="0" width="69.8" height="69.4" fill="#fff" filter="url(#mottle)" opacity="0.45"/>
<g filter="url(#faint)" opacity="0.35">
<circle cx="16.0" cy="11.0" r="3.0" fill="#5050c0"/>
<circle cx="8.0" cy="60.0" r="4.0" fill="#5050c0"/>
<circle cx="14.0" cy="62.0" r="3.0" fill="#5050c0"/>
<circle cx="46.0" cy="30.0" r="3.0" fill="#5050c0"/>
<circle cx="36.0" cy="8.0" r="3.0" fill="#5050c0"/>
</g>
<g filter="url(#blob)">
<line x1="5.0" y1="13.0" x2="10.0" y2="8.0" stroke="#1410a6" stroke-width="6" stroke-linecap="round"/>
<circle cx="50.0" cy="9.0" r="4.5" fill="#1410a6"/>
<circle cx="58.3" cy="7.5" r="6.5" fill="#1410a6"/>
<circle cx="58.3" cy="27.5" r="6.2" fill="#1410a6"/>
<circle cx="29.2" cy="39.2" r="3.5" fill="#1410a6"/>
<ellipse cx="19.0" cy="50.0" rx="6.5" ry="7.0" fill="#1410a6"/>
<circle cx="16.0" cy="55.0" r="4.5" fill="#1410a6"/>
<circle cx="6.7" cy="58.3" r="3.0" fill="#1410a6"/>
<circle cx="42.5" cy="60.8" r="3.4" fill="#1410a6"/>
<line x1="62.0" y1="40.0" x2="62.0" y2="56.0" stroke="#1410a6" stroke-width="7" stroke-linecap="round"/>
<circle cx="62.0" cy="59.0" r="6.5" fill="#1410a6"/>
<circle cx="50.0" cy="8.0" r="4.5" fill="#1410a6"/>
<line x1="52.0" y1="62.0" x2="64.0" y2="62.0" stroke="#1410a6" stroke-width="7" stroke-linecap="round"/>
</g>
<g filter="url(#blobin)">
<line x1="5.0" y1="13.0" x2="10.0" y2="8.0" stroke="#1c18da" stroke-width="6" stroke-linecap="round"/>
<circle cx="50.0" cy="9.0" r="4.5" fill="#1c18da"/>
<circle cx="58.3" cy="7.5" r="6.5" fill="#1c18da"/>
<circle cx="58.3" cy="27.5" r="6.2" fill="#1c18da"/>
<circle cx="29.2" cy="39.2" r="3.5" fill="#1c18da"/>
<ellipse cx="19.0" cy="50.0" rx="6.5" ry="7.0" fill="#1c18da"/>
<circle cx="16.0" cy="55.0" r="4.5" fill="#1c18da"/>
<circle cx="6.7" cy="58.3" r="3.0" fill="#1c18da"/>
<circle cx="42.5" cy="60.8" r="3.4" fill="#1c18da"/>
<line x1="62.0" y1="40.0" x2="62.0" y2="56.0" stroke="#1c18da" stroke-width="7" stroke-linecap="round"/>
<circle cx="62.0" cy="59.0" r="6.5" fill="#1c18da"/>
<circle cx="50.0" cy="8.0" r="4.5" fill="#1c18da"/>
<line x1="52.0" y1="62.0" x2="64.0" y2="62.0" stroke="#1c18da" stroke-width="7" stroke-linecap="round"/>
</g>
<ellipse cx="62.5" cy="56.7" rx="4" ry="8" fill="url(#hot)"/>
<circle cx="49.2" cy="21.3" r="3.8" fill="#ff1a00" filter="url(#soft)"/>
<circle cx="21.7" cy="47.5" r="3.8" fill="#ffc42a" filter="url(#soft)"/>
<rect x="0.6" y="0.6" width="68.6" height="68.2" fill="none" stroke="#9a9aa2" stroke-width="1.1"/>
</g>
<clipPath id="clip12"><rect x="0" y="0" width="69.8" height="69.4"/></clipPath>
<g transform="translate(200.7,286.7)" clip-path="url(#clip12)">
<rect x="0" y="0" width="69.8" height="69.4" fill="url(#hmbg)"/>
<rect x="0" y="0" width="69.8" height="69.4" fill="#fff" filter="url(#mottle)" opacity="0.45"/>
<g filter="url(#faint)" opacity="0.35">
<circle cx="12.5" cy="25.0" r="3.0" fill="#5050c0"/>
<circle cx="20.0" cy="32.0" r="3.0" fill="#5050c0"/>
<circle cx="40.0" cy="40.0" r="3.0" fill="#5050c0"/>
<circle cx="30.0" cy="25.0" r="4.0" fill="#5050c0"/>
<circle cx="60.0" cy="40.0" r="3.0" fill="#5050c0"/>
</g>
<g filter="url(#blob)">
<line x1="6.0" y1="8.0" x2="15.0" y2="8.0" stroke="#1410a6" stroke-width="10" stroke-linecap="round"/>
<line x1="6.0" y1="10.0" x2="8.0" y2="15.0" stroke="#1410a6" stroke-width="8" stroke-linecap="round"/>
<circle cx="26.7" cy="11.7" r="2.6" fill="#1410a6"/>
<circle cx="39.0" cy="6.7" r="2.6" fill="#1410a6"/>
<circle cx="48.0" cy="8.0" r="4.0" fill="#1410a6"/>
<ellipse cx="58.0" cy="8.0" rx="7.0" ry="6.0" fill="#1410a6"/>
<ellipse cx="50.0" cy="23.0" rx="10.0" ry="7.5" fill="#1410a6"/>
<circle cx="42.0" cy="26.0" r="5.0" fill="#1410a6"/>
<circle cx="58.0" cy="20.0" r="4.0" fill="#1410a6"/>
<circle cx="63.3" cy="34.0" r="2.0" fill="#1410a6"/>
<circle cx="6.7" cy="37.5" r="3.0" fill="#1410a6"/>
<circle cx="5.8" cy="48.3" r="2.5" fill="#1410a6"/>
<circle cx="25.0" cy="46.0" r="9.0" fill="#1410a6"/>
<circle cx="22.0" cy="52.0" r="6.0" fill="#1410a6"/>
<line x1="5.0" y1="60.0" x2="12.0" y2="61.0" stroke="#1410a6" stroke-width="8" stroke-linecap="round"/>
<line x1="46.0" y1="61.0" x2="62.0" y2="61.0" stroke="#1410a6" stroke-width="9" stroke-linecap="round"/>
<line x1="62.0" y1="47.0" x2="62.0" y2="61.0" stroke="#1410a6" stroke-width="8" stroke-linecap="round"/>
</g>
<g filter="url(#blobin)">
<line x1="6.0" y1="8.0" x2="15.0" y2="8.0" stroke="#1c18da" stroke-width="10" stroke-linecap="round"/>
<line x1="6.0" y1="10.0" x2="8.0" y2="15.0" stroke="#1c18da" stroke-width="8" stroke-linecap="round"/>
<circle cx="26.7" cy="11.7" r="2.6" fill="#1c18da"/>
<circle cx="39.0" cy="6.7" r="2.6" fill="#1c18da"/>
<circle cx="48.0" cy="8.0" r="4.0" fill="#1c18da"/>
<ellipse cx="58.0" cy="8.0" rx="7.0" ry="6.0" fill="#1c18da"/>
<ellipse cx="50.0" cy="23.0" rx="10.0" ry="7.5" fill="#1c18da"/>
<circle cx="42.0" cy="26.0" r="5.0" fill="#1c18da"/>
<circle cx="58.0" cy="20.0" r="4.0" fill="#1c18da"/>
<circle cx="63.3" cy="34.0" r="2.0" fill="#1c18da"/>
<circle cx="6.7" cy="37.5" r="3.0" fill="#1c18da"/>
<circle cx="5.8" cy="48.3" r="2.5" fill="#1c18da"/>
<circle cx="25.0" cy="46.0" r="9.0" fill="#1c18da"/>
<circle cx="22.0" cy="52.0" r="6.0" fill="#1c18da"/>
<line x1="5.0" y1="60.0" x2="12.0" y2="61.0" stroke="#1c18da" stroke-width="8" stroke-linecap="round"/>
<line x1="46.0" y1="61.0" x2="62.0" y2="61.0" stroke="#1c18da" stroke-width="9" stroke-linecap="round"/>
<line x1="62.0" y1="47.0" x2="62.0" y2="61.0" stroke="#1c18da" stroke-width="8" stroke-linecap="round"/>
</g>
<g filter="url(#core)" opacity="0.8">
<circle cx="50.0" cy="22.0" r="4.0" fill="#3050ff"/>
<circle cx="25.0" cy="47.0" r="4.0" fill="#3050ff"/>
</g>
<ellipse cx="6.7" cy="7.5" rx="5" ry="4" fill="url(#cyan)"/>
<ellipse cx="60" cy="7.5" rx="5" ry="4" fill="url(#cyan)"/>
<ellipse cx="62.5" cy="60" rx="5.5" ry="5.5" fill="url(#hot)"/>
<ellipse cx="29" cy="48" rx="3" ry="4" fill="url(#cyan)"/>
<circle cx="50" cy="21.7" r="3.8" fill="#ff1a00" filter="url(#soft)"/>
<circle cx="24.2" cy="48.3" r="3.8" fill="#ffc42a" filter="url(#soft)"/>
<rect x="0.6" y="0.6" width="68.6" height="68.2" fill="none" stroke="#9a9aa2" stroke-width="1.1"/>
</g>
<clipPath id="clip13"><rect x="0" y="0" width="69.8" height="69.4"/></clipPath>
<g transform="translate(275.7,286.7)" clip-path="url(#clip13)">
<rect x="0" y="0" width="69.8" height="69.4" fill="url(#hmbg)"/>
<rect x="0" y="0" width="69.8" height="69.4" fill="#fff" filter="url(#mottle)" opacity="0.45"/>
<g filter="url(#blob)">
<rect x="3.0" y="4.5" width="64.5" height="62.5" rx="4" fill="#1410a6"/>
<circle cx="8.0" cy="6.0" r="5.0" fill="#1410a6"/>
<circle cx="20.0" cy="6.0" r="5.0" fill="#1410a6"/>
<circle cx="62.0" cy="9.0" r="6.0" fill="#1410a6"/>
</g>
<g filter="url(#blobin)">
<rect x="3.0" y="4.5" width="64.5" height="62.5" rx="4" fill="#1c18da"/>
<circle cx="8.0" cy="6.0" r="5.0" fill="#1c18da"/>
<circle cx="20.0" cy="6.0" r="5.0" fill="#1c18da"/>
<circle cx="62.0" cy="9.0" r="6.0" fill="#1c18da"/>
</g>
<g filter="url(#core)" opacity="0.8">
<line x1="38.0" y1="28.0" x2="50.0" y2="13.0" stroke="#3050ff" stroke-width="5" stroke-linecap="round"/>
</g>
<g filter="url(#blob)">
<ellipse cx="21.0" cy="23.0" rx="4.0" ry="5.0" fill="#9290c6"/>
<ellipse cx="30.0" cy="28.0" rx="4.0" ry="6.5" fill="#9290c6"/>
<line x1="39.0" y1="8.0" x2="53.0" y2="8.0" stroke="#9290c6" stroke-width="6.5" stroke-linecap="round"/>
<ellipse cx="67.5" cy="24.0" rx="3.5" ry="11.0" fill="#9290c6"/>
<ellipse cx="59.0" cy="30.0" rx="4.5" ry="3.5" fill="#9290c6"/>
<line x1="40.0" y1="44.0" x2="57.0" y2="44.0" stroke="#9290c6" stroke-width="7" stroke-linecap="round"/>
<circle cx="41.0" cy="56.0" r="3.5" fill="#9290c6"/>
<circle cx="52.0" cy="51.0" r="4.0" fill="#9290c6"/>
<circle cx="34.0" cy="15.0" r="3.0" fill="#9290c6"/>
<circle cx="47.0" cy="51.0" r="3.5" fill="#9290c6"/>
<circle cx="67.0" cy="3.0" r="4.0" fill="#9290c6"/>
<circle cx="30.0" cy="2.0" r="3.0" fill="#9290c6"/>
<circle cx="36.0" cy="36.0" r="3.0" fill="#9290c6"/>
<circle cx="60.0" cy="40.0" r="3.0" fill="#9290c6"/>
</g>
<g filter="url(#faint)"><ellipse cx="17.0" cy="54.0" rx="11.0" ry="14.0" fill="#38d8ff"/></g>
<g filter="url(#faint)"><ellipse cx="18.0" cy="50.0" rx="7.0" ry="8.0" fill="#80f8b0"/></g>
<g filter="url(#faint)"><ellipse cx="9.0" cy="22.0" rx="5.0" ry="15.0" fill="#38c8ff"/></g>
<g filter="url(#faint)"><ellipse cx="21.0" cy="10.0" rx="5.0" ry="4.0" fill="#40b0ff"/></g>
<ellipse cx="9.2" cy="14.6" rx="4.5" ry="8" fill="url(#hot)"/>
<ellipse cx="10" cy="28.75" rx="3.8" ry="3.8" fill="url(#cyan)"/>
<ellipse cx="20" cy="10.4" rx="5" ry="3.5" fill="url(#warm)"/>
<ellipse cx="14.6" cy="55" rx="3.5" ry="3.5" fill="url(#warm)"/>
<ellipse cx="19.6" cy="47.5" rx="7" ry="7" fill="url(#orange)"/>
<ellipse cx="10.8" cy="63.3" rx="4" ry="3.5" fill="url(#cyan2)"/>
<ellipse cx="63.3" cy="64.2" rx="3" ry="3" fill="url(#cyan)"/>
<circle cx="50" cy="21.7" r="3.8" fill="#ff1a00" filter="url(#soft)"/>
<circle cx="19.6" cy="47.5" r="3.8" fill="#ffc42a" filter="url(#soft)"/>
<rect x="0.6" y="0.6" width="68.6" height="68.2" fill="none" stroke="#9a9aa2" stroke-width="1.1"/>
</g>
<circle cx="90.3" cy="370.2" r="4.4" fill="#ee2a14"/>
<text transform="translate(103.00,373.40) scale(1.0,1.1)" font-size="10.6" fill="#333" stroke="#333" stroke-width="0.15" text-anchor="start" >Object 1</text>
<circle cx="199.9" cy="370.2" r="4.4" fill="#f8c43a"/>
<text transform="translate(216.80,373.40) scale(1.0,1.1)" font-size="10.6" fill="#333" stroke="#333" stroke-width="0.15" text-anchor="start" >Object 2</text>
<text transform="translate(382.50,198.60) scale(1.0,1.1)" font-size="22" fill="#222" stroke="#222" stroke-width="0.15" text-anchor="start" >F</text>
<rect x="486.2" y="218.9" width="41.4" height="116.5" fill="url(#bluebg)"/>
<rect x="577.8" y="218.9" width="41.4" height="116.5" fill="url(#bluebg)"/>
<text transform="translate(450.10,211.20) scale(1.0,1.1)" font-size="11" fill="#222" stroke="#222" stroke-width="0.15" text-anchor="start" >Saline</text>
<text transform="translate(492.00,211.20) scale(1.0,1.1)" font-size="11" fill="#3049d0" stroke="#3049d0" stroke-width="0.15" text-anchor="start" >norBNI</text>
<text transform="translate(540.00,211.20) scale(1.0,1.1)" font-size="11" fill="#222" stroke="#222" stroke-width="0.15" text-anchor="start" >Saline</text>
<text transform="translate(585.00,211.20) scale(1.0,1.1)" font-size="11" fill="#3049d0" stroke="#3049d0" stroke-width="0.15" text-anchor="start" >norBNI</text>
<line x1="440.2" y1="216" x2="440.2" y2="335.4" stroke="#444" stroke-width="1.1"/>
<line x1="435.7" y1="335.4" x2="440.2" y2="335.4" stroke="#444" stroke-width="1.1"/>
<text transform="translate(433.90,338.80) scale(1.0,1.1)" font-size="9.8" fill="#333" stroke="#333" stroke-width="0.15" text-anchor="end" >0</text>
<line x1="435.7" y1="295.8" x2="440.2" y2="295.8" stroke="#444" stroke-width="1.1"/>
<text transform="translate(433.90,299.20) scale(1.0,1.1)" font-size="9.8" fill="#333" stroke="#333" stroke-width="0.15" text-anchor="end" >50</text>
<line x1="435.7" y1="256.2" x2="440.2" y2="256.2" stroke="#444" stroke-width="1.1"/>
<text transform="translate(433.90,259.60) scale(1.0,1.1)" font-size="9.8" fill="#333" stroke="#333" stroke-width="0.15" text-anchor="end" >100</text>
<line x1="435.7" y1="216.6" x2="440.2" y2="216.6" stroke="#444" stroke-width="1.1"/>
<text transform="translate(433.90,220.00) scale(1.0,1.1)" font-size="9.8" fill="#333" stroke="#333" stroke-width="0.15" text-anchor="end" >150</text>
<line x1="435.7" y1="335.4" x2="622" y2="335.4" stroke="#444" stroke-width="1.1"/>
<line x1="460.3" y1="335.4" x2="460.3" y2="340.3" stroke="#444" stroke-width="1.1"/>
<line x1="506.6" y1="335.4" x2="506.6" y2="340.3" stroke="#444" stroke-width="1.1"/>
<line x1="553" y1="335.4" x2="553" y2="340.3" stroke="#444" stroke-width="1.1"/>
<line x1="598.8" y1="335.4" x2="598.8" y2="340.3" stroke="#444" stroke-width="1.1"/>
<text transform="translate(412.00,330.30) rotate(-90) scale(1.0,1.1)" font-size="12.95" fill="#222" stroke="#222" stroke-width="0.15" text-anchor="start" xml:space="preserve">% Interaction  Time</text>
<rect x="446.2" y="311.4" width="11.9" height="24.0" fill="#fff" stroke="#555" stroke-width="0.9"/>
<rect x="463.3" y="281" width="11.9" height="54.4" fill="#fff" stroke="#555" stroke-width="0.9"/>
<rect x="492.6" y="305.2" width="11.9" height="30.2" fill="#fff" stroke="#555" stroke-width="0.9"/>
<rect x="509.3" y="286.2" width="11.9" height="49.2" fill="#fff" stroke="#555" stroke-width="0.9"/>
<rect x="538.3" y="289.3" width="11.9" height="46.1" fill="#fff" stroke="#555" stroke-width="0.9"/>
<rect x="555.5" y="302.4" width="11.9" height="33.0" fill="#fff" stroke="#555" stroke-width="0.9"/>
<rect x="584.8" y="321" width="11.9" height="14.4" fill="#fff" stroke="#555" stroke-width="0.9"/>
<rect x="601.9" y="275.7" width="11.9" height="59.7" fill="#fff" stroke="#555" stroke-width="0.9"/>
<line x1="451.4" y1="286.1" x2="451.4" y2="322.9" stroke="#e8a070" stroke-width="0.8"/>
<line x1="497.7" y1="268.2" x2="497.7" y2="318.2" stroke="#e8a070" stroke-width="0.8"/>
<line x1="544.2" y1="256.6" x2="544.2" y2="315.7" stroke="#e8a070" stroke-width="0.8"/>
<line x1="589.7" y1="297.9" x2="589.7" y2="335.6" stroke="#e8a070" stroke-width="0.8"/>
<line x1="468.7" y1="269.5" x2="468.7" y2="305.1" stroke="#e8a070" stroke-width="0.8"/>
<line x1="515.0" y1="273.2" x2="515.0" y2="322.8" stroke="#e8a070" stroke-width="0.8"/>
<line x1="561.5" y1="274.2" x2="561.5" y2="335.0" stroke="#e8a070" stroke-width="0.8"/>
<line x1="607.6" y1="256.0" x2="607.6" y2="292.4" stroke="#e8a070" stroke-width="0.8"/>
<circle cx="451.4" cy="286.1" r="3.2" fill="#dc4c3c" stroke="#882414" stroke-width="0.9"/>
<circle cx="451" cy="302.3" r="3.2" fill="#dc4c3c" stroke="#882414" stroke-width="0.9"/>
<circle cx="452.4" cy="305.7" r="3.2" fill="#dc4c3c" stroke="#882414" stroke-width="0.9"/>
<circle cx="451.4" cy="309" r="3.2" fill="#dc4c3c" stroke="#882414" stroke-width="0.9"/>
<circle cx="449" cy="315.2" r="3.2" fill="#dc4c3c" stroke="#882414" stroke-width="0.9"/>
<circle cx="453.7" cy="316.2" r="3.2" fill="#dc4c3c" stroke="#882414" stroke-width="0.9"/>
<circle cx="450.5" cy="319" r="3.2" fill="#dc4c3c" stroke="#882414" stroke-width="0.9"/>
<circle cx="448.6" cy="321.3" r="3.2" fill="#dc4c3c" stroke="#882414" stroke-width="0.9"/>
<circle cx="454.3" cy="321" r="3.2" fill="#dc4c3c" stroke="#882414" stroke-width="0.9"/>
<circle cx="451.8" cy="322.9" r="3.2" fill="#dc4c3c" stroke="#882414" stroke-width="0.9"/>
<circle cx="498.2" cy="268.2" r="3.2" fill="#dc4c3c" stroke="#882414" stroke-width="0.9"/>
<circle cx="498.2" cy="286.4" r="3.2" fill="#dc4c3c" stroke="#882414" stroke-width="0.9"/>
<circle cx="498.2" cy="297.1" r="3.2" fill="#dc4c3c" stroke="#882414" stroke-width="0.9"/>
<circle cx="497.6" cy="300.5" r="3.2" fill="#dc4c3c" stroke="#882414" stroke-width="0.9"/>
<circle cx="498.2" cy="303.6" r="3.2" fill="#dc4c3c" stroke="#882414" stroke-width="0.9"/>
<circle cx="496.1" cy="307.2" r="3.2" fill="#dc4c3c" stroke="#882414" stroke-width="0.9"/>
<circle cx="499.2" cy="309.7" r="3.2" fill="#dc4c3c" stroke="#882414" stroke-width="0.9"/>
<circle cx="496.1" cy="312.7" r="3.2" fill="#dc4c3c" stroke="#882414" stroke-width="0.9"/>
<circle cx="499.6" cy="313.7" r="3.2" fill="#dc4c3c" stroke="#882414" stroke-width="0.9"/>
<circle cx="497.1" cy="316.7" r="3.2" fill="#dc4c3c" stroke="#882414" stroke-width="0.9"/>
<circle cx="499.2" cy="318.2" r="3.2" fill="#dc4c3c" stroke="#882414" stroke-width="0.9"/>
<circle cx="495.1" cy="317.8" r="3.2" fill="#dc4c3c" stroke="#882414" stroke-width="0.9"/>
<circle cx="541.1" cy="256.6" r="3.2" fill="#dc4c3c" stroke="#882414" stroke-width="0.9"/>
<circle cx="546.6" cy="256.6" r="3.2" fill="#dc4c3c" stroke="#882414" stroke-width="0.9"/>
<circle cx="543.8" cy="263.5" r="3.2" fill="#dc4c3c" stroke="#882414" stroke-width="0.9"/>
<circle cx="543.8" cy="273.6" r="3.2" fill="#dc4c3c" stroke="#882414" stroke-width="0.9"/>
<circle cx="543.8" cy="292.4" r="3.2" fill="#dc4c3c" stroke="#882414" stroke-width="0.9"/>
<circle cx="541.7" cy="303.6" r="3.2" fill="#dc4c3c" stroke="#882414" stroke-width="0.9"/>
<circle cx="547.2" cy="304.6" r="3.2" fill="#dc4c3c" stroke="#882414" stroke-width="0.9"/>
<circle cx="541.7" cy="310.1" r="3.2" fill="#dc4c3c" stroke="#882414" stroke-width="0.9"/>
<circle cx="547.2" cy="310.7" r="3.2" fill="#dc4c3c" stroke="#882414" stroke-width="0.9"/>
<circle cx="542.1" cy="315.7" r="3.2" fill="#dc4c3c" stroke="#882414" stroke-width="0.9"/>
<circle cx="547.2" cy="314.3" r="3.2" fill="#dc4c3c" stroke="#882414" stroke-width="0.9"/>
<circle cx="589.6" cy="297.9" r="3.2" fill="#dc4c3c" stroke="#882414" stroke-width="0.9"/>
<circle cx="589.6" cy="308.6" r="3.2" fill="#dc4c3c" stroke="#882414" stroke-width="0.9"/>
<circle cx="586.7" cy="312.7" r="3.2" fill="#dc4c3c" stroke="#882414" stroke-width="0.9"/>
<circle cx="593.2" cy="313.7" r="3.2" fill="#dc4c3c" stroke="#882414" stroke-width="0.9"/>
<circle cx="589.6" cy="315.7" r="3.2" fill="#dc4c3c" stroke="#882414" stroke-width="0.9"/>
<circle cx="587.6" cy="319.8" r="3.2" fill="#dc4c3c" stroke="#882414" stroke-width="0.9"/>
<circle cx="591.2" cy="320.2" r="3.2" fill="#dc4c3c" stroke="#882414" stroke-width="0.9"/>
<circle cx="587.1" cy="335.6" r="3.2" fill="#dc4c3c" stroke="#882414" stroke-width="0.9"/>
<circle cx="592.8" cy="335.6" r="3.2" fill="#dc4c3c" stroke="#882414" stroke-width="0.9"/>
<circle cx="466.7" cy="269.5" r="3.2" fill="#eaa846" stroke="#8a601c" stroke-width="0.9"/>
<circle cx="472" cy="269.5" r="3.2" fill="#eaa846" stroke="#8a601c" stroke-width="0.9"/>
<circle cx="465.7" cy="273" r="3.2" fill="#eaa846" stroke="#8a601c" stroke-width="0.9"/>
<circle cx="470.5" cy="271.8" r="3.2" fill="#eaa846" stroke="#8a601c" stroke-width="0.9"/>
<circle cx="466.7" cy="276.2" r="3.2" fill="#eaa846" stroke="#8a601c" stroke-width="0.9"/>
<circle cx="471.4" cy="275.2" r="3.2" fill="#eaa846" stroke="#8a601c" stroke-width="0.9"/>
<circle cx="467.6" cy="279" r="3.2" fill="#eaa846" stroke="#8a601c" stroke-width="0.9"/>
<circle cx="470.5" cy="281" r="3.2" fill="#eaa846" stroke="#8a601c" stroke-width="0.9"/>
<circle cx="466.7" cy="283.8" r="3.2" fill="#eaa846" stroke="#8a601c" stroke-width="0.9"/>
<circle cx="469.5" cy="283.8" r="3.2" fill="#eaa846" stroke="#8a601c" stroke-width="0.9"/>
<circle cx="465.7" cy="288.6" r="3.2" fill="#eaa846" stroke="#8a601c" stroke-width="0.9"/>
<circle cx="470.5" cy="287.6" r="3.2" fill="#eaa846" stroke="#8a601c" stroke-width="0.9"/>
<circle cx="468.6" cy="290" r="3.2" fill="#eaa846" stroke="#8a601c" stroke-width="0.9"/>
<circle cx="469" cy="305.1" r="3.2" fill="#eaa846" stroke="#8a601c" stroke-width="0.9"/>
<circle cx="515.4" cy="273.2" r="3.2" fill="#eaa846" stroke="#8a601c" stroke-width="0.9"/>
<circle cx="513.3" cy="275.2" r="3.2" fill="#eaa846" stroke="#8a601c" stroke-width="0.9"/>
<circle cx="517" cy="276.3" r="3.2" fill="#eaa846" stroke="#8a601c" stroke-width="0.9"/>
<circle cx="512.3" cy="279.3" r="3.2" fill="#eaa846" stroke="#8a601c" stroke-width="0.9"/>
<circle cx="517.4" cy="280.3" r="3.2" fill="#eaa846" stroke="#8a601c" stroke-width="0.9"/>
<circle cx="515.4" cy="283.3" r="3.2" fill="#eaa846" stroke="#8a601c" stroke-width="0.9"/>
<circle cx="514.4" cy="286.4" r="3.2" fill="#eaa846" stroke="#8a601c" stroke-width="0.9"/>
<circle cx="516.4" cy="288.4" r="3.2" fill="#eaa846" stroke="#8a601c" stroke-width="0.9"/>
<circle cx="513.3" cy="292.4" r="3.2" fill="#eaa846" stroke="#8a601c" stroke-width="0.9"/>
<circle cx="515.4" cy="294.5" r="3.2" fill="#eaa846" stroke="#8a601c" stroke-width="0.9"/>
<circle cx="515" cy="304.6" r="3.2" fill="#eaa846" stroke="#8a601c" stroke-width="0.9"/>
<circle cx="515" cy="322.8" r="3.2" fill="#eaa846" stroke="#8a601c" stroke-width="0.9"/>
<circle cx="558.7" cy="275.2" r="3.2" fill="#eaa846" stroke="#8a601c" stroke-width="0.9"/>
<circle cx="564.4" cy="274.2" r="3.2" fill="#eaa846" stroke="#8a601c" stroke-width="0.9"/>
<circle cx="558.7" cy="281.3" r="3.2" fill="#eaa846" stroke="#8a601c" stroke-width="0.9"/>
<circle cx="564.4" cy="280.9" r="3.2" fill="#eaa846" stroke="#8a601c" stroke-width="0.9"/>
<circle cx="558.7" cy="287.4" r="3.2" fill="#eaa846" stroke="#8a601c" stroke-width="0.9"/>
<circle cx="564.4" cy="287.4" r="3.2" fill="#eaa846" stroke="#8a601c" stroke-width="0.9"/>
<circle cx="561.4" cy="298.1" r="3.2" fill="#eaa846" stroke="#8a601c" stroke-width="0.9"/>
<circle cx="561.4" cy="317.3" r="3.2" fill="#eaa846" stroke="#8a601c" stroke-width="0.9"/>
<circle cx="561.4" cy="327.5" r="3.2" fill="#eaa846" stroke="#8a601c" stroke-width="0.9"/>
<circle cx="558.7" cy="335" r="3.2" fill="#eaa846" stroke="#8a601c" stroke-width="0.9"/>
<circle cx="564.4" cy="335" r="3.2" fill="#eaa846" stroke="#8a601c" stroke-width="0.9"/>
<circle cx="605" cy="256" r="3.2" fill="#eaa846" stroke="#8a601c" stroke-width="0.9"/>
<circle cx="610.4" cy="256" r="3.2" fill="#eaa846" stroke="#8a601c" stroke-width="0.9"/>
<circle cx="604.4" cy="271.2" r="3.2" fill="#eaa846" stroke="#8a601c" stroke-width="0.9"/>
<circle cx="610.4" cy="273.2" r="3.2" fill="#eaa846" stroke="#8a601c" stroke-width="0.9"/>
<circle cx="606.4" cy="275.2" r="3.2" fill="#eaa846" stroke="#8a601c" stroke-width="0.9"/>
<circle cx="611.4" cy="277.3" r="3.2" fill="#eaa846" stroke="#8a601c" stroke-width="0.9"/>
<circle cx="605.4" cy="278.3" r="3.2" fill="#eaa846" stroke="#8a601c" stroke-width="0.9"/>
<circle cx="608.4" cy="280.3" r="3.2" fill="#eaa846" stroke="#8a601c" stroke-width="0.9"/>
<circle cx="607.4" cy="283.3" r="3.2" fill="#eaa846" stroke="#8a601c" stroke-width="0.9"/>
<circle cx="607" cy="292.4" r="3.2" fill="#eaa846" stroke="#8a601c" stroke-width="0.9"/>
<path d="M452.1,276.2 V242.3 H469.3 V262" fill="none" stroke="#111" stroke-width="1.8"/>
<path d="M497.5,262 V242.3 H515 V266" fill="none" stroke="#111" stroke-width="1.8"/>
<path d="M544.6,252 V242.3 H561.5 V266.7" fill="none" stroke="#111" stroke-width="1.8"/>
<path d="M590.1,291 V242.3 H607.6 V252" fill="none" stroke="#111" stroke-width="1.8"/>
<text transform="translate(460.50,243.00)" font-size="17" fill="#111" stroke="#111" stroke-width="0.15" text-anchor="middle" font-weight="bold" >***</text>
<text transform="translate(506.50,243.00)" font-size="17" fill="#111" stroke="#111" stroke-width="0.15" text-anchor="middle" font-weight="bold" >*</text>
<text transform="translate(553.00,235.70) scale(1.0,1.1)" font-size="10" fill="#333" stroke="#333" stroke-width="0.15" text-anchor="middle" >ns</text>
<text transform="translate(599.00,243.00)" font-size="17" fill="#111" stroke="#111" stroke-width="0.15" text-anchor="middle" font-weight="bold" >****</text>
<text transform="translate(461.90,351.80) rotate(-45) scale(1.0,1.1)" font-size="11.6" fill="#222" stroke="#222" stroke-width="0.15" text-anchor="end" >WT</text>
<text transform="translate(508.20,351.80) rotate(-45) scale(1.0,1.1)" font-size="11.6" fill="#222" stroke="#222" stroke-width="0.15" text-anchor="end" >WT</text>
<text transform="translate(554.60,351.80) rotate(-45) scale(1.0,1.1)" font-size="11.6" fill="#222" stroke="#222" stroke-width="0.15" text-anchor="end" >DAT Val559</text>
<text transform="translate(600.40,351.80) rotate(-45) scale(1.0,1.1)" font-size="11.6" fill="#222" stroke="#222" stroke-width="0.15" text-anchor="end" >DAT Val559</text>
<circle cx="632.3" cy="224" r="3.4" fill="#dc4c3c" stroke="#882414" stroke-width="0.9"/>
<text transform="translate(646.00,228.20) scale(1.0,1.1)" font-size="11.1" fill="#222" stroke="#222" stroke-width="0.15" text-anchor="start" >Familiar Object</text>
<circle cx="632.3" cy="241.4" r="3.4" fill="#eaa846" stroke="#8a601c" stroke-width="0.9"/>
<text transform="translate(646.00,245.60) scale(1.0,1.1)" font-size="11.1" fill="#222" stroke="#222" stroke-width="0.15" text-anchor="start" >Novel Object</text>
</svg></body></html>
